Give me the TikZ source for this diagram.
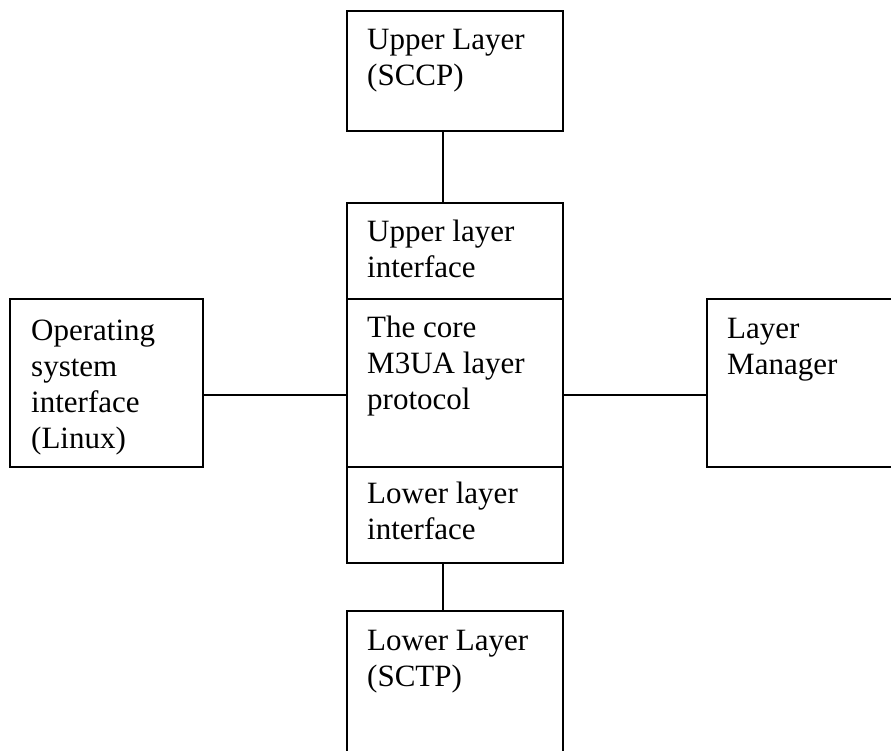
\documentclass[tikz,border=0pt]{standalone}
\usepackage{fontspec}
\setmainfont{Liberation Serif}
\newcommand{\txtlines}[1]{\begin{tabular}[t]{@{}l@{}}#1\end{tabular}}
\tikzset{
  blk/.style={draw, line width=1.8pt, rectangle, inner sep=0pt, anchor=north west},
  lbl/.style={anchor=base west, inner sep=0pt, font=\fontsize{31}{36}\selectfont},
  wire/.style={line width=1.8pt}
}
\begin{document}
\begin{tikzpicture}[x=1pt,y=-1pt]
  \useasboundingbox (0,0) rectangle (891,751);
  \clip (0,0) rectangle (891,751);
  % boxes
  \node[blk, minimum width=216pt, minimum height=120pt] (up)   at (346,10)  {};
  \node[blk, minimum width=216pt, minimum height=96pt]  (uif)  at (346,202) {};
  \node[blk, minimum width=216pt, minimum height=168pt] (core) at (346,298) {};
  \node[blk, minimum width=216pt, minimum height=96pt]  (lif)  at (346,466) {};
  \node[blk, minimum width=216pt, minimum height=160pt] (low)  at (346,610) {};
  \node[blk, minimum width=193pt, minimum height=168pt] (os)   at (9,298)   {};
  \node[blk, minimum width=200pt, minimum height=168pt] (lm)   at (706,298) {};
  % labels
  \node[lbl] (upT)   at ([shift={(21pt,-40pt)}]up.north west)   {\txtlines{Upper Layer\\(SCCP)}};
  \node[lbl] (uifT)  at ([shift={(21pt,-40pt)}]uif.north west)  {\txtlines{Upper layer\\interface}};
  \node[lbl] (coreT) at ([shift={(21pt,-39pt)}]core.north west) {\txtlines{The core\\M3UA layer\\protocol}};
  \node[lbl] (lifT)  at ([shift={(21pt,-37pt)}]lif.north west)  {\txtlines{Lower layer\\interface}};
  \node[lbl] (lowT)  at ([shift={(21pt,-40pt)}]low.north west)  {\txtlines{Lower Layer\\(SCTP)}};
  \node[lbl] (osT)   at ([shift={(22pt,-42pt)}]os.north west)   {\txtlines{Operating\\system\\interface\\(Linux)}};
  \node[lbl] (lmT)   at ([shift={(21pt,-40pt)}]lm.north west)   {\txtlines{Layer\\Manager}};
  % connectors
  \draw[wire] ([xshift=-12pt]up.south)  -- ([xshift=-12pt]uif.north);
  \draw[wire] ([xshift=-12pt]lif.south) -- ([xshift=-12pt]low.north);
  \draw[wire] ([yshift=-12pt]os.east)   -- ([yshift=-12pt]core.west);
  \draw[wire] ([yshift=-12pt]core.east) -- ([yshift=-12pt]lm.west);
\end{tikzpicture}
\end{document}
